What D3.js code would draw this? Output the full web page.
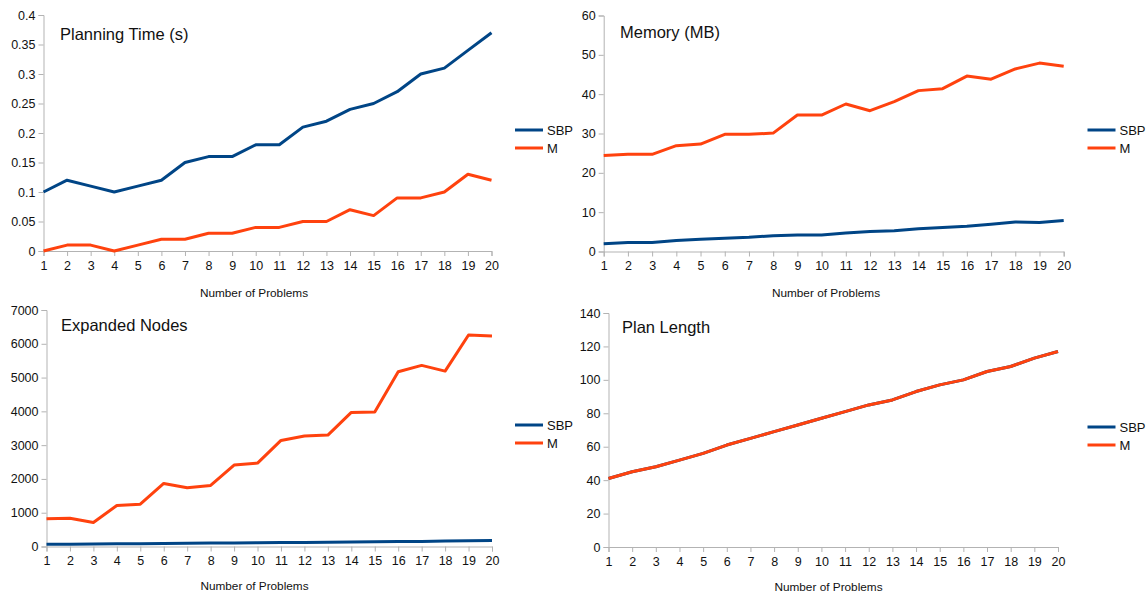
<!DOCTYPE html>
<html><head><meta charset="utf-8">
<script src="https://cdn.jsdelivr.net/npm/d3@7"></script>
<style>body{margin:0;background:#fff;} svg{display:block;font-family:"Liberation Sans",Arial,sans-serif;}</style>
</head><body>
<svg id="c" width="1147" height="594"></svg>
<script>
const problems = d3.range(1, 21);
const seriesNames = ["SBP", "M"];
const xLabel = "Number of Problems";

const timeSBP = [0.10,0.12,0.11,0.10,0.11,0.12,0.15,0.16,0.16,0.18,0.18,0.21,0.22,0.24,0.25,0.27,0.30,0.31,0.34,0.37];
const timeM   = [0.00,0.01,0.01,0.00,0.01,0.02,0.02,0.03,0.03,0.04,0.04,0.05,0.05,0.07,0.06,0.09,0.09,0.10,0.13,0.12];
const timeTicks = [0,0.05,0.1,0.15,0.2,0.25,0.3,0.35,0.4];

const memSBP = [2.0,2.3,2.3,2.8,3.1,3.4,3.6,4.0,4.2,4.2,4.7,5.1,5.3,5.8,6.1,6.4,6.9,7.5,7.4,7.9];
const memM   = [24.4,24.7,24.7,26.9,27.3,29.8,29.8,30.1,34.7,34.7,37.5,35.8,38.1,40.9,41.4,44.6,43.8,46.4,47.9,47.1];
const memTicks = [0,10,20,30,40,50,60];

const nodesSBP = [65,70,75,80,85,90,95,100,105,110,115,120,125,130,140,145,150,160,170,180];
const nodesM   = [819,839,711,1214,1254,1866,1737,1806,2409,2468,3139,3268,3297,3968,3978,5173,5360,5192,6259,6229];
const nodesTicks = [0,1000,2000,3000,4000,5000,6000,7000];

const planSBP = [41,45,48,52,56,61,65,69,73,77,81,85,88,93,97,100,105,108,113,117];
const planM   = [41,45,48,52,56,61,65,69,73,77,81,85,88,93,97,100,105,108,113,117];
const planTicks = [0,20,40,60,80,100,120,140];

const colors = ["#004586", "#ff420e"];
const svg = d3.select("#c");

function panel(cfg) {
  const g = svg.append("g");
  const x = d3.scaleLinear().domain([1, 20]).range([cfg.x0, cfg.x1]);
  const yMax = cfg.ticks[cfg.ticks.length - 1];
  const y = d3.scaleLinear().domain([0, yMax]).range([cfg.y0, cfg.y1]);

  const ya = g.append("g").attr("transform", `translate(${cfg.x0},0)`)
    .call(d3.axisLeft(y).tickValues(cfg.ticks).tickSize(5).tickPadding(3).tickFormat(d => String(d)));
  const xa = g.append("g").attr("transform", `translate(0,${cfg.y0})`)
    .call(d3.axisBottom(x).tickValues(problems).tickSize(5).tickPadding(5).tickFormat(d => String(d)));
  [ya, xa].forEach(a => {
    a.select(".domain").attr("stroke", "#b3b3b3").attr("stroke-width", 1);
    a.selectAll(".tick line").attr("stroke", "#b3b3b3");
    a.selectAll(".tick text").attr("fill", "#111").style("font-size", "12.5px")
      .style("font-family", "'Liberation Sans', Arial, sans-serif");
  });

  const line = d3.line().x((d, i) => x(problems[i])).y(d => y(d));
  cfg.series.forEach((s, k) => {
    g.append("path").datum(s).attr("d", line).attr("fill", "none")
      .attr("stroke", colors[k]).attr("stroke-width", 3).attr("stroke-linejoin", "round");
  });

  g.append("text").attr("x", cfg.tx).attr("y", cfg.ty).text(cfg.title)
    .style("font-size", "16.5px").attr("fill", "#111");
  g.append("text").attr("x", cfg.lblx).attr("y", cfg.lbly)
    .attr("text-anchor", "middle").text(xLabel).style("font-size", "11.8px").attr("fill", "#111");

  seriesNames.forEach((n, k) => {
    const ly = cfg.ly + k * 18;
    g.append("line").attr("x1", cfg.lx).attr("x2", cfg.lx + 28).attr("y1", ly).attr("y2", ly)
      .attr("stroke", colors[k]).attr("stroke-width", 3);
    g.append("text").attr("x", cfg.lx + 32).attr("y", ly + 5).text(n)
      .style("font-size", "13px").attr("fill", "#111");
  });
}

panel({title: "Planning Time (s)", series: [timeSBP, timeM], ticks: timeTicks,
  x0: 43.5, x1: 491.5, y0: 251, y1: 15, tx: 60, ty: 40, lx: 515, ly: 130, lblx: 254, lbly: 297});
panel({title: "Memory (MB)", series: [memSBP, memM], ticks: memTicks,
  x0: 603.7, x1: 1063.7, y0: 251.5, y1: 15.5, tx: 620, ty: 38, lx: 1087.5, ly: 130, lblx: 826, lbly: 297});
panel({title: "Expanded Nodes", series: [nodesSBP, nodesM], ticks: nodesTicks,
  x0: 46.5, x1: 492, y0: 546.5, y1: 310, tx: 61, ty: 331, lx: 515, ly: 425, lblx: 254.5, lbly: 590});
panel({title: "Plan Length", series: [planSBP, planM], ticks: planTicks,
  x0: 608.5, x1: 1058, y0: 547, y1: 313, tx: 622, ty: 333, lx: 1087.5, ly: 427, lblx: 828.5, lbly: 590.5});
</script>
</body></html>
